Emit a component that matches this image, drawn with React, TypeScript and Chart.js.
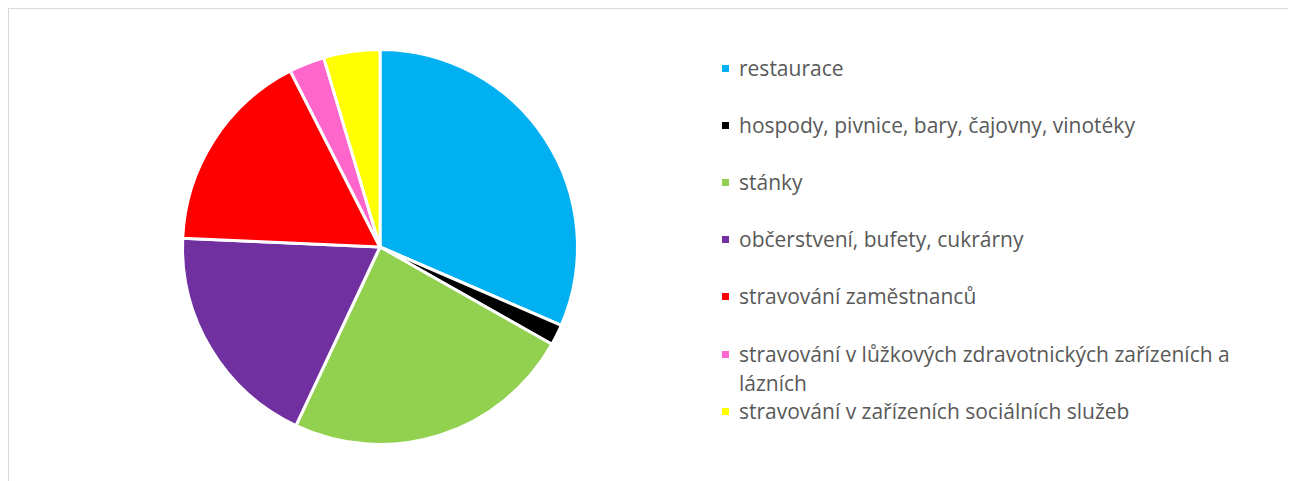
import React, { useEffect, useRef } from "react";
import { Chart, registerables } from "chart.js";

Chart.register(...registerables);

const categories: string[] = [
  "restaurace",
  "hospody, pivnice, bary, čajovny, vinotéky",
  "stánky",
  "občerstvení, bufety, cukrárny",
  "stravování zaměstnanců",
  "stravování v lůžkových zdravotnických zařízeních a lázních",
  "stravování v zařízeních sociálních služeb",
];

const shares: number[] = [31.5, 1.7, 23.8, 18.7, 16.8, 2.9, 4.6];

const sliceColors: string[] = [
  "#00B0F0",
  "#000000",
  "#92D050",
  "#7030A0",
  "#FF0000",
  "#FF66CC",
  "#FFFF00",
];

export default function App() {
  const canvasRef = useRef<HTMLCanvasElement | null>(null);

  useEffect(() => {
    document.body.style.overflow = "hidden";
    const ctx = canvasRef.current;
    if (!ctx) return;
    const chart = new Chart(ctx, {
      type: "pie",
      data: {
        labels: categories,
        datasets: [
          {
            data: shares,
            backgroundColor: sliceColors,
            borderColor: "#ffffff",
            borderWidth: 3,
          },
        ],
      },
      options: {
        animation: false,
        responsive: false,
        maintainAspectRatio: false,
        layout: { padding: 11 },
        plugins: {
          legend: { display: false },
          tooltip: { enabled: false },
        },
      },
    });
    return () => chart.destroy();
  }, []);

  const firstCenter = 68;
  const step = 57.2;
  const lineH = 29;

  return (
    <div
      style={{
        position: "relative",
        width: 1310,
        height: 490,
        boxSizing: "border-box",
        borderTop: "1px solid #d9d9d9",
        borderLeft: "1px solid #d9d9d9",
        background: "#ffffff",
        overflow: "hidden",
      }}
    >
      <canvas
        ref={canvasRef}
        width={420}
        height={420}
        style={{ position: "absolute", left: 161, top: 28, width: 420, height: 420 }}
      />
      {categories.map((label, i) => {
        const c = firstCenter + step * i;
        return (
          <div
            key={label}
            style={{
              position: "absolute",
              left: 713,
              top: c - 9 - lineH / 2,
              width: 560,
              height: lineH * 2,
            }}
          >
            <div
              style={{
                position: "absolute",
                left: 0,
                top: lineH / 2 - 3.5,
                width: 7,
                height: 7,
                background: sliceColors[i],
              }}
            />
            <div
              style={{
                position: "absolute",
                left: 17,
                top: 0,
                width: 515,
                fontFamily: "'Open Sans', sans-serif",
                fontSize: 21,
                lineHeight: lineH + "px",
                color: "#595959",
              }}
            >
              {label}
            </div>
          </div>
        );
      })}
    </div>
  );
}
